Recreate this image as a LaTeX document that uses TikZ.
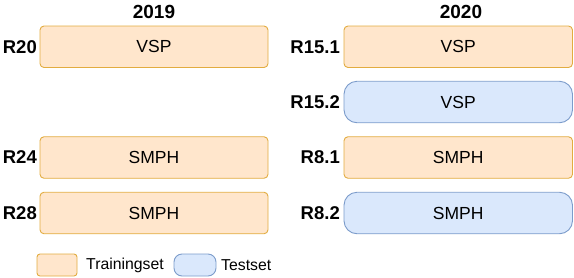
\documentclass[tikz,border=0pt]{standalone}
\usepackage{fontspec}
\setmainfont{Liberation Sans}
\definecolor{trainfill}{HTML}{FFE6CC}
\definecolor{traindraw}{HTML}{E2AC40}
\definecolor{testfill}{HTML}{DAE8FC}
\definecolor{testdraw}{HTML}{7C9CCB}
\begin{document}
\begin{tikzpicture}[x=1pt,y=-1pt,
  base/.style={draw, line width=0.9pt, inner sep=0pt, minimum height=41.5pt, font=\fontsize{17.5}{20}\selectfont},
  train/.style={base, fill=trainfill, draw=traindraw, rounded corners=4pt},
  test/.style={base, fill=testfill, draw=testdraw, rounded corners=13pt},
  leftw/.style={minimum width=228pt},
  rightw/.style={minimum width=228.5pt},
  rlabel/.style={anchor=east, inner sep=0pt, font=\bfseries\fontsize{18.5}{20}\selectfont},
  year/.style={inner sep=0pt, font=\bfseries\fontsize{19}{20}\selectfont},
  legtxt/.style={anchor=west, inner sep=0pt, font=\fontsize{15.8}{18}\selectfont}]
\useasboundingbox (0,0) rectangle (574,277);
% years
\node[year] (y19) at (154,12) {2019};
\node[year] (y20) at (461,12) {2020};
% left column
\node[train,leftw] (l1) at (154,46.75) {VSP};
\node[train,leftw] (l3) at (154,157.5) {SMPH};
\node[train,leftw] (l4) at (154,213) {SMPH};
\node[rlabel] (lr20) at (37,46.75) {R20};
\node[rlabel] (lr24) at (37,157.5) {R24};
\node[rlabel] (lr28) at (37,213) {R28};
% right column
\node[train,rightw] (r1) at (458.25,46.75) {VSP};
\node[test,rightw] (r2) at (458.25,102) {VSP};
\node[train,rightw] (r3) at (458.25,157.5) {SMPH};
\node[test,rightw] (r4) at (458.25,213) {SMPH};
\node[rlabel] (rr1) at (340,46.75) {R15.1};
\node[rlabel] (rr2) at (340,102) {R15.2};
\node[rlabel] (rr3) at (340,157.5) {R8.1};
\node[rlabel] (rr4) at (340,213) {R8.2};
% legend
\node[draw=traindraw, fill=trainfill, line width=0.9pt, rounded corners=3pt, minimum width=40pt, minimum height=22pt, inner sep=0pt] (lgtrain) at (57,265) {};
\node[legtxt] (lgtraintxt) at (86,265) {Trainingset};
\node[draw=testdraw, fill=testfill, line width=0.9pt, rounded corners=8pt, minimum width=42pt, minimum height=22pt, inner sep=0pt] (lgtest) at (195,265) {};
\node[legtxt] (lgtesttxt) at (221,265) {Testset};
\end{tikzpicture}
\end{document}
